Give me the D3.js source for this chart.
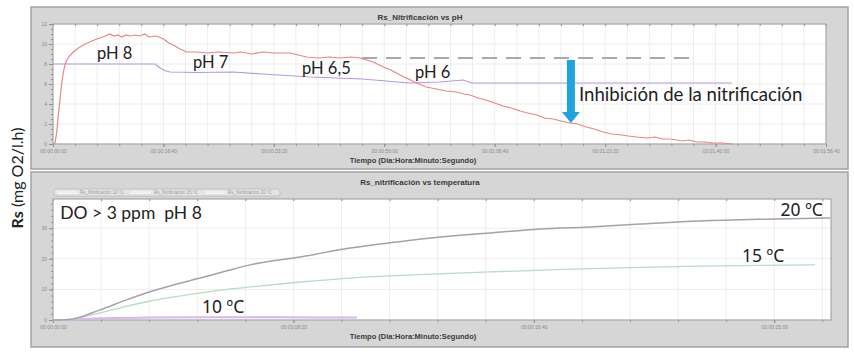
<!DOCTYPE html>
<html lang="es">
<head>
<meta charset="UTF-8">
<title>Rs nitrificación</title>
<script src="https://d3js.org/d3.v7.min.js"></script>
<style>
    body { margin: 0; background: #fff; }
    svg { display: block; font-family: Lato, "Noto Sans", sans-serif; }
    .tick text { font-family: "Liberation Sans", Arial, sans-serif; font-size: 5px; fill: #8a8a8a; }
    .tick line { stroke: #8f8f8f; }
    .panel-title { font-family: "Liberation Sans", Arial, sans-serif; font-size: 8px; font-weight: bold; fill: #3a3a3a; text-anchor: middle; }
    .axis-title { font-family: "Liberation Sans", Arial, sans-serif; font-size: 7.5px; font-weight: bold; fill: #3a3a3a; text-anchor: middle; }
    .note { font-size: 16px; fill: #222; white-space: pre; }
    .deg { font-family: "Noto Sans", sans-serif; font-size: 17.5px; }
    .legend-text { font-family: "Liberation Sans", Arial, sans-serif; font-size: 4.5px; fill: #9a9a9a; }
</style>
</head>
<body>
<svg width="854" height="354"></svg>
<script>
// ---- panel 1: Rs nitrificación vs pH (time in seconds, Rs in mg O2/l.h)
const rsPh = [
    [0, 0], [18, 0.1], [33, 1.1], [48, 2.9], [63, 4.4], [78, 6.0], [93, 7.1], [108, 7.9], [124, 8.4],
    [150, 8.8], [184, 9.2], [230, 9.6], [275, 9.9], [330, 10.2], [396, 10.5], [450, 10.7],
    [516, 11.0], [550, 10.8], [590, 10.9], [620, 10.7], [660, 10.9], [700, 10.8], [740, 10.9],
    [788, 10.8], [830, 11.0], [870, 10.7], [939, 10.8], [1000, 10.5], [1050, 10.1], [1090, 9.9],
    [1150, 9.5], [1211, 9.2], [1300, 9.2], [1400, 9.1], [1500, 9.2], [1633, 9.1], [1700, 9.2],
    [1800, 9.0], [1900, 9.2], [2000, 9.1], [2146, 9.1], [2220, 8.9], [2297, 8.7], [2400, 8.6],
    [2500, 8.7], [2600, 8.6], [2700, 8.7], [2780, 8.6], [2840, 8.4], [2900, 8.2], [2991, 7.7],
    [3060, 7.4], [3142, 6.9], [3220, 6.5], [3293, 6.1], [3380, 5.7], [3474, 5.5], [3560, 5.3],
    [3650, 5.2], [3720, 5.0], [3776, 4.9], [3850, 4.6], [3920, 4.4], [4000, 4.1], [4075, 3.8],
    [4150, 3.6], [4230, 3.3], [4300, 3.1], [4380, 2.9], [4450, 2.6], [4530, 2.5], [4600, 2.3],
    [4682, 2.1], [4750, 2.0], [4830, 1.7], [4900, 1.5], [4983, 1.2], [5060, 1.0], [5150, 0.9],
    [5210, 0.8], [5285, 0.7], [5380, 0.6], [5450, 0.7], [5520, 0.5], [5587, 0.5], [5650, 0.4],
    [5700, 0.3], [5760, 0.4], [5829, 0.2], [5900, 0.2], [5980, 0.1], [6060, 0.1], [6146, 0]
];
const phLine = [
    [0, 8.0], [500, 8.0], [924, 8.0], [945, 7.8], [969, 7.6], [1010, 7.35], [1060, 7.2], [1300, 7.15],
    [1630, 7.2], [1900, 7.0], [2327, 6.7], [2800, 6.5], [3233, 6.1], [3500, 6.2], [3716, 6.4],
    [3791, 6.1], [4500, 6.1], [5300, 6.1], [6146, 6.1]
];
const refLevel = [[2798, 8.6], [5768, 8.6]];
const phLabels = [
    { text: "pH 8", t: 398, v: 8.5, size: 16.5 },
    { text: "pH 7", t: 1268, v: 7.6, size: 16.5 },
    { text: "pH 6,5", t: 2255, v: 7.0, size: 16.5 },
    { text: "pH 6", t: 3278, v: 6.6, size: 16.5 },
    { text: "Inhibición de la nitrificación", t: 4763, v: 4.3, size: 18.6 }
];
const inhibitionArrow = { t: 4690, from: 8.4, to: 2.1 };
const phXTicks = [0, 1000, 2000, 3000, 4000, 5000, 6000, 7000];
const phYTicks = [0, 2, 4, 6, 8, 10, 12];

// ---- panel 2: Rs nitrificación vs temperatura
const rs20 = [
    [0, 0], [35, 0.2], [98, 3.3], [150, 6.4], [202, 9.2], [254, 11.6], [306, 13.7], [358, 15.9],
    [410, 18.0], [462, 19.4], [514, 20.6], [618, 23.5], [701, 25.2], [805, 27.1], [909, 28.4],
    [1013, 29.7], [1117, 30.4], [1221, 31.3], [1346, 32.3], [1480, 32.9], [1616, 33.3]
];
const rs15 = [
    [0, 0], [35, 0.2], [98, 2.3], [150, 4.4], [202, 6.2], [254, 7.6], [306, 8.8], [358, 9.9],
    [410, 10.8], [514, 12.4], [618, 13.7], [760, 14.8], [909, 15.7], [1060, 16.5], [1221, 17.2],
    [1346, 17.6], [1470, 17.8], [1585, 18.0]
];
const rs10 = [[0, 0], [35, 0.1], [100, 0.6], [200, 0.8], [300, 0.9], [420, 0.9], [540, 0.85], [632, 0.8]];
const tempSeries = [
    { name: "Rs_Nitrificación 10 ºC", data: rs10, color: "#d7b7ec", width: 2 },
    { name: "Rs_Nitrificación 15 ºC", data: rs15, color: "#b8dcc6", width: 1.3 },
    { name: "Rs_Nitrificación 20 ºC", data: rs20, color: "#ab9eab", width: 1.5 }
];
const tempLabels = [
    { text: "DO > 3 ppm  pH 8", t: 15, v: 33, anchor: "start", deg: false },
    { text: "10 ºC", t: 310, v: 2.3, anchor: "start", deg: true },
    { text: "15 ºC", t: 1433, v: 19, anchor: "start", deg: true },
    { text: "20 ºC", t: 1601, v: 34, anchor: "end", deg: true }
];
const tempXTicks = [0, 500, 1000, 1500];
const tempYTicks = [0, 10, 20, 30];

const svg = d3.select("svg");
const fmtTime = s => [Math.floor(s / 86400), Math.floor(s % 86400 / 3600), Math.floor(s % 3600 / 60), s % 60]
    .map(n => String(n).padStart(2, "0")).join(":");

function panel(box, plot, xDomain, yDomain, xTicks, xMinorStep, yTicks, yMinorStep, title) {
    svg.append("rect")
        .attr("x", box.x).attr("y", box.y).attr("width", box.w).attr("height", box.h)
        .attr("fill", "#d6d6d6").attr("stroke", "#a2a2a2").attr("stroke-width", 1.5);
    svg.append("text").attr("class", "panel-title")
        .attr("x", 420).attr("y", box.y + 13).text(title);
    svg.append("text").attr("class", "axis-title")
        .attr("x", 413).attr("y", plot.y1 + 19).text("Tiempo (Dia:Hora:Minuto:Segundo)");

    const x = d3.scaleLinear().domain(xDomain).range([plot.x0, plot.x1]);
    const y = d3.scaleLinear().domain(yDomain).range([plot.y1, plot.y0]);
    const xMinor = d3.range(xDomain[0], xDomain[1] + 1, xMinorStep);
    const yMinor = d3.range(yDomain[0], yDomain[1], yMinorStep);

    svg.append("rect")
        .attr("x", plot.x0).attr("y", plot.y0)
        .attr("width", plot.x1 - plot.x0).attr("height", plot.y1 - plot.y0)
        .attr("fill", "#fff");

    const grid = svg.append("g").attr("stroke", "#e8e8e8").attr("stroke-width", 0.8);
    grid.selectAll(".gx").data(xMinor).join("line")
        .attr("x1", d => x(d)).attr("x2", d => x(d)).attr("y1", plot.y0).attr("y2", plot.y1);
    grid.selectAll(".gy").data(yTicks).join("line")
        .attr("x1", plot.x0).attr("x2", plot.x1).attr("y1", d => y(d)).attr("y2", d => y(d));

    const clean = g => g.select(".domain").remove();
    svg.append("g").attr("transform", `translate(0,${plot.y1})`)
        .call(d3.axisBottom(x).tickValues(xMinor).tickFormat("").tickSize(2)).call(clean);
    svg.append("g").attr("transform", `translate(0,${plot.y1})`)
        .call(d3.axisBottom(x).tickValues(xTicks).tickFormat(fmtTime).tickSize(3).tickPadding(2)).call(clean);
    svg.append("g").attr("transform", `translate(0,${plot.y0})`)
        .call(d3.axisBottom(x).tickValues(xMinor).tickFormat("").tickSize(2)).call(clean);
    svg.append("g").attr("transform", `translate(${plot.x0},0)`)
        .call(d3.axisLeft(y).tickValues(yMinor).tickFormat("").tickSize(2)).call(clean);
    svg.append("g").attr("transform", `translate(${plot.x0},0)`)
        .call(d3.axisLeft(y).tickValues(yTicks).tickSize(4).tickPadding(2)).call(clean);

    svg.append("rect")
        .attr("x", plot.x0).attr("y", plot.y0)
        .attr("width", plot.x1 - plot.x0).attr("height", plot.y1 - plot.y0)
        .attr("fill", "none").attr("stroke", "#9a9a9a").attr("stroke-width", 1);
    return { x, y };
}

// ---- top panel
const p1 = panel({ x: 31, y: 7, w: 817, h: 162 }, { x0: 53, x1: 826, y0: 24, y1: 144 },
    [0, 7000], [0, 12], phXTicks, 200, phYTicks, 0.5, "Rs_Nitrificación vs pH");
const line1 = d3.line().x(d => p1.x(d[0])).y(d => p1.y(d[1]));

svg.append("path").datum(refLevel).attr("d", line1)
    .attr("fill", "none").attr("stroke", "#a4aab0").attr("stroke-width", 1.8).attr("stroke-dasharray", "15,9");
svg.append("path").datum(phLine).attr("d", line1)
    .attr("fill", "none").attr("stroke", "#b797e2").attr("stroke-width", 1.2);
svg.append("path").datum(rsPh).attr("d", line1)
    .attr("fill", "none").attr("stroke", "#e88585").attr("stroke-width", 1.2);

svg.selectAll(".ph-label").data(phLabels).join("text")
    .attr("class", "note")
    .attr("x", d => p1.x(d.t)).attr("y", d => p1.y(d.v))
    .style("font-size", d => d.size + "px")
    .text(d => d.text);

const ax = p1.x(inhibitionArrow.t), ayTop = p1.y(inhibitionArrow.from), ayTip = p1.y(inhibitionArrow.to);
svg.append("path")
    .attr("d", `M${ax - 4},${ayTop} H${ax + 4} V${ayTip - 11} H${ax + 9} L${ax},${ayTip} L${ax - 9},${ayTip - 11} H${ax - 4} Z`)
    .attr("fill", "#1ea3dc");

// ---- bottom panel
const p2 = panel({ x: 31, y: 172, w: 817, h: 175 }, { x0: 53, x1: 831, y0: 199, y1: 320 },
    [0, 1618], [0, 39.5], tempXTicks, 100, tempYTicks, 2, "Rs_nitrificación vs temperatura");
const line2 = d3.line().x(d => p2.x(d[0])).y(d => p2.y(d[1])).curve(d3.curveMonotoneX);

svg.selectAll(".temp-line").data(tempSeries).join("path")
    .attr("d", d => line2(d.data))
    .attr("fill", "none").attr("stroke", d => d.color).attr("stroke-width", d => d.width);

// legend strip
const legend = svg.append("g").attr("transform", "translate(54,189)");
legend.append("rect").attr("width", 226).attr("height", 7).attr("rx", 2)
    .attr("fill", "#e4e4e4").attr("stroke", "#b0b0b0").attr("stroke-width", 0.6);
const item = legend.selectAll(".item").data(tempSeries).join("g")
    .attr("transform", (d, i) => `translate(${3 + i * 74},0)`);
item.append("line").attr("x1", 0).attr("x2", 20).attr("y1", 3.5).attr("y2", 3.5)
    .attr("stroke", "#f4eef8").attr("stroke-width", 3);
item.append("text").attr("class", "legend-text").attr("x", 23).attr("y", 5.3).text(d => d.name);

svg.selectAll(".temp-label").data(tempLabels).join("text")
    .attr("class", d => d.deg ? "note deg" : "note")
    .attr("x", d => p2.x(d.t)).attr("y", d => p2.y(d.v))
    .attr("text-anchor", d => d.anchor)
    .style("font-size", d => d.deg ? null : "17.5px")
    .text(d => d.text);

// shared y label
const yl = svg.append("text")
    .attr("transform", "translate(23,178) rotate(-90)")
    .attr("text-anchor", "middle")
    .style("font-size", "16px").attr("fill", "#222");
yl.append("tspan").attr("font-weight", "bold").text("Rs");
yl.append("tspan").text(" (mg O2/l.h)");
</script>
</body>
</html>
